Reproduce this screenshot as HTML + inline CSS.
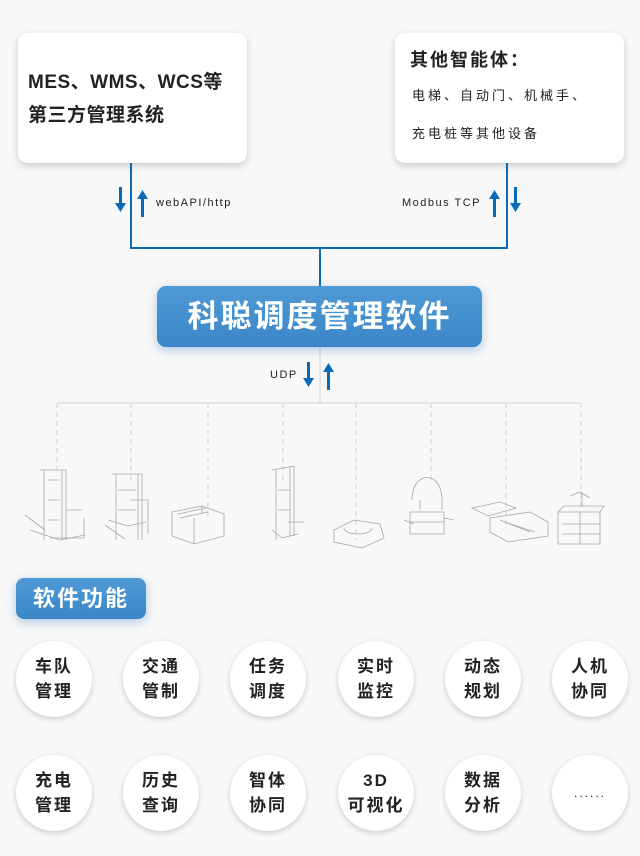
<!DOCTYPE html>
<html><head><meta charset="utf-8"><style>
*{margin:0;padding:0;box-sizing:border-box}
body{width:640px;height:856px;background:#f8f8f8;position:relative;overflow:hidden;font-family:"Liberation Sans","Noto Sans CJK SC",sans-serif;color:#222}
.card{position:absolute;background:#fff;border-radius:10px;box-shadow:0 3px 8px rgba(0,0,0,0.18)}
.abs{position:absolute}
.blue{background:linear-gradient(#4f9ad5,#3a86c8);border-radius:8px;box-shadow:0 3px 10px rgba(40,110,180,0.35);color:#fff;font-weight:bold;text-align:center}
.c{position:absolute;width:76px;height:76px;border-radius:50%;background:#fff;box-shadow:0 2px 6px rgba(0,0,0,0.18);display:flex;align-items:center;justify-content:center;text-align:center;font-weight:bold;font-size:17px;line-height:25px;letter-spacing:2px;color:#222}
.lbl{position:absolute;font-size:11px;letter-spacing:1.5px;color:#222}
</style></head><body>
<div class="card" style="left:18px;top:33px;width:229px;height:130px">
 <div class="abs" style="left:10px;top:33px;font-size:19px;font-weight:bold;line-height:33px;letter-spacing:0.5px;white-space:nowrap">MES、WMS、WCS等<br>第三方管理系统</div>
</div>
<div class="card" style="left:395px;top:33px;width:229px;height:130px">
 <div class="abs" style="left:15px;top:13px;font-size:18px;font-weight:bold;letter-spacing:2px">其他智能体：</div>
 <div class="abs" style="left:17px;top:44px;font-size:13px;line-height:38px;letter-spacing:3px;white-space:nowrap">电梯、自动门、机械手、<br>充电桩等其他设备</div>
</div>
<svg class="abs" style="left:0;top:0" width="640" height="856">
 <g stroke="#0a6ab5" stroke-width="2" fill="none">
  <path d="M131 163V248H507V163M320 248V287"/>
 </g>
 <g fill="#0a6ab5">
  <rect x="119" y="187" width="3" height="20"/><path d="M115 203h11l-5.5 9z"/>
  <rect x="141" y="197" width="3" height="20"/><path d="M137 199h11l-5.5-9z"/>
  <rect x="493" y="197" width="3" height="20"/><path d="M489 199h11l-5.5-9z"/>
  <rect x="514" y="187" width="3" height="20"/><path d="M510 203h11l-5.5 9z"/>
  <rect x="307" y="362" width="3" height="20"/><path d="M303 378h11l-5.5 9z"/>
  <rect x="327" y="370" width="3" height="20"/><path d="M323 372h11l-5.5-9z"/>
 </g>
 <g stroke="#ddd" stroke-width="1.5" fill="none">
  <path d="M320 347V403M57 403H581"/>
  <path stroke-dasharray="5 4" d="M57 403V470M131 403V480M208 403V520M283 403V480M356 403V540M431 403V480M506 403V530M581 403V510"/>
 </g>
 <g stroke="#999" stroke-width="0.8" fill="none" opacity="0.85">
  <path d="M40 470h26v70M44 470v70M62 470v70M30 530l30 10 25-5M25 515l20 15M66 510h16M50 538h34v-20M48 480h12M48 500h12M48 520h12"/>
  <path d="M112 474h30v66M116 474v66M138 474v66M108 520l20 6 18-4M105 525l20 14M130 500h18v34M118 490h18M118 510h18"/>
  <path d="M172 512l30-6 22 8v22l-30 8-22-8zM172 512v24M194 518v26M202 506v8M178 514l28-6M180 518l28-6"/>
  <path d="M272 470l22-4v70M276 470v70M290 466v70M272 530l10 8 16-4M288 522h16M278 490h12M278 510h12"/>
  <path d="M334 530l20-10 26 4 4 14-22 10-28-6zM344 528a14 6 0 1 0 28 0"/>
  <path d="M412 500c0-30 30-30 30 0v10M420 500v10M410 512h34v22h-34zM404 520l10 4M444 518l10 2M410 522h34"/>
  <path d="M472 508l28-6 16 6-28 8zM490 518l40-6 18 10v14l-40 6-18-10zM500 520l30 12M505 522l30 10"/>
  <path d="M558 512h42v32h-42zM558 512l6-6h40l-4 6M570 496l10-4 10 6M582 492v14M562 524h38M562 534h38M580 512v32"/>
 </g>
</svg>
<div class="lbl" style="left:156px;top:197px">webAPI/http</div>
<div class="lbl" style="left:402px;top:197px">Modbus TCP</div>
<div class="lbl" style="left:270px;top:369px">UDP</div>
<div class="blue abs" style="left:157px;top:286px;width:325px;height:61px;font-size:31px;line-height:61px;letter-spacing:2px;border-radius:9px">科聪调度管理软件</div>
<div class="blue abs" style="left:16px;top:578px;width:130px;height:41px;font-size:22px;line-height:41px;letter-spacing:2px">软件功能</div>
<div class="c" style="left:16px;top:641px">车队<br>管理</div>
<div class="c" style="left:123px;top:641px">交通<br>管制</div>
<div class="c" style="left:230px;top:641px">任务<br>调度</div>
<div class="c" style="left:338px;top:641px">实时<br>监控</div>
<div class="c" style="left:445px;top:641px">动态<br>规划</div>
<div class="c" style="left:552px;top:641px">人机<br>协同</div>
<div class="c" style="left:16px;top:755px">充电<br>管理</div>
<div class="c" style="left:123px;top:755px">历史<br>查询</div>
<div class="c" style="left:230px;top:755px">智体<br>协同</div>
<div class="c" style="left:338px;top:755px">3D<br>可视化</div>
<div class="c" style="left:445px;top:755px">数据<br>分析</div>
<div class="c" style="left:552px;top:755px;font-weight:normal;font-size:12px">......</div>
</body></html>
